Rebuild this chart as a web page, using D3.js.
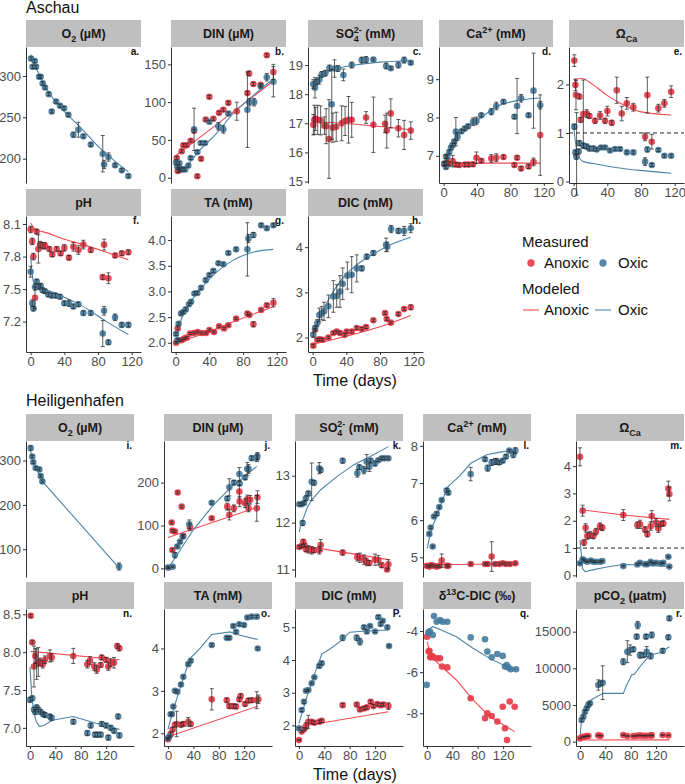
<!DOCTYPE html>
<html><head><meta charset="utf-8">
<script src="https://cdn.jsdelivr.net/npm/d3@7"></script>
<style>body{margin:0;background:#fff}</style></head>
<body>
<svg id="chart" width="685" height="784"></svg>
<script>
// ---------------- DATA ----------------
const xTicks = [0, 40, 80, 120];
const sites = ["Aschau", "Heiligenhafen"];
const legendGroups = ["Measured", "Modeled"];
const legendSeries = ["Anoxic", "Oxic"];

// Measured: [day, value, sd]; Modeled: [day, value]
const a_oxic = [[0.5,321,2],[4.9,318,2],[2.3,311,2],[6.4,311,2],[10,299,2],[12,299,2],[14.3,291,2],[17.1,286,2],[21.5,278,2],[25,257,2],[30.2,269,2],[34.9,264,2],[39.7,261,2],[44.8,253,2],[50.7,229,3],[56.7,235,9],[62.6,227,2],[71.4,217,2],[85.6,206,22],[87.2,193,5],[92.3,202,5],[100.2,192,2],[108.2,186,2],[116,179,2]];
const a_modOxic = [[0,326],[10,302],[20,283],[30,268],[45,252],[60,237],[80,215],[100,197],[116,184]];
const a_ticks = [200,250,300];
const b_anoxic = [[1.3,26,2],[2.5,9,2],[4.4,10,2],[7.2,35,2],[9.2,43,2],[13.2,43,2],[17.9,49,2],[21.9,62,2],[25.8,2,2],[30.2,25,2],[35.7,77,2],[40,107,2],[44.8,78,2],[51.5,86,2],[56.6,90,2],[62.6,99,2],[72.6,88,12],[85.2,112,2],[87.2,138,3],[92.3,124,2],[101,123,2],[108.2,162,2],[116,140,10]];
const b_oxic = [[0.5,20,2],[2,15,2],[4.4,19,2],[5.2,12,2],[8.4,11,2],[11.2,11,2],[15.1,16,2],[17.9,26,2],[21.9,64,28],[25.8,34,2],[29.8,46,2],[34.9,46,2],[40,74,2],[50.7,68,5],[56.6,64,5],[62.6,85,2],[85.2,90,50],[87.5,100,5],[93.1,100,5],[101,121,2],[108.2,133,5],[116,127,20]];
const b_modAnoxic = [[0,29],[40,63],[80,97],[116,128]];
const b_modOxic = [[0,20],[5.2,13],[13.2,17],[29,37],[48.8,59],[68.5,85],[92.3,109],[108.2,124],[116,130]];
const b_ticks = [0,50,100,150];
const c_anoxic = [[0.8,16.95,0.35],[2,17.12,0.5],[3.5,17.15,0.4],[6,17.12,0.5],[9.5,17.1,0.5],[14,16.92,0.3],[16,16.9,0.6],[19.4,16.46,1.35],[24,16.85,0.5],[28,16.88,0.5],[34.5,17.0,0.6],[38.5,17.08,0.5],[42.5,17.12,0.8],[46.4,17.12,0.6],[63.4,17.2,0.2],[72.1,16.95,0.95],[86,16.98,0.3],[88,16.75,0.6],[92.8,17.34,0.5],[101.8,16.83,0.3],[108.6,16.6,0.5],[116.5,16.75,0.3]];
const c_oxic = [[0.8,18.35,0.15],[2.8,18.22,0.35],[5,18.42,0.1],[8,18.5,0.15],[11,18.68,0.1],[15,18.72,0.1],[20,18.9,0.1],[22.7,17.65,1.2],[26,18.88,0.3],[30,18.88,0.1],[36.5,18.66,0.2],[46.4,19.0,0.1],[58.3,19.17,0.1],[63.4,19.19,0.1],[72.1,19.19,0.05],[87.2,18.97,0.1],[92.8,18.89,0.05],[101.8,19.0,0.1],[108.6,19.17,0.1],[116.5,19.08,0.05]];
const c_modAnoxic = [[0,17.05],[20,17.03],[116.5,16.78]];
const c_modOxic = [[0,18.15],[5,18.45],[15,18.7],[30,18.88],[50,19.0],[80,19.1],[116.5,19.15]];
const c_ticks = [15,16,17,18,19];
const d_anoxic = [[0.8,6.78,0.05],[2.9,6.98,0.05],[4,6.82,0.05],[6.8,6.79,0.05],[10.8,6.86,0.15],[14.7,6.77,0.05],[18.7,6.76,0.05],[25.4,6.77,0.05],[30,6.77,0.05],[35.3,6.78,0.05],[39.3,6.95,0.15],[45.2,6.87,0.05],[57.1,6.93,0.1],[63.1,6.95,0.1],[71.7,6.97,0.05],[84.8,6.76,0.05],[88,6.95,0.05],[92.8,6.67,0.05],[101.8,6.72,0.05],[107.7,6.84,0.1],[115.7,7.54,1.05]];
const d_oxic = [[0.8,6.80,0.05],[2.9,6.71,0.05],[4.4,6.97,0.05],[6.8,7.10,0.05],[8.8,7.21,0.05],[10.8,7.28,0.05],[12.7,7.37,0.05],[14.7,7.63,0.37],[16.7,7.50,0.1],[21.5,7.64,0.05],[25.4,7.71,0.05],[29.3,7.77,0.05],[35.3,7.89,0.1],[39.3,7.91,0.1],[45.2,8.06,0.05],[57.1,8.15,0.08],[63.1,8.30,0.1],[71.7,8.41,0.05],[84.8,8.02,0.05],[88,8.30,0.72],[92.8,8.50,0.1],[101.8,8.06,0.05],[107.7,8.70,0.98],[115.7,8.32,0.1]];
const d_modAnoxic = [[0,6.81],[115.7,6.81]];
const d_modOxic = [[0,6.80],[7.6,7.19],[15.5,7.54],[27.4,7.76],[43.2,7.97],[63.1,8.28],[90.8,8.45],[115.7,8.51]];
const d_ticks = [7,8,9];
const e_anoxic = [[0.8,2.49,0.12],[2.1,1.99,0.12],[2.8,1.78,0.3],[3.5,0.57,0.85],[6.8,1.75,0.05],[8.4,1.27,0.05],[11.5,1.39,0.7],[15.5,1.40,0.08],[18.7,1.35,0.05],[25.4,1.25,0.05],[31.4,1.36,0.08],[37.3,1.25,0.05],[40,1.45,0.1],[45.2,1.21,0.05],[51.2,1.88,0.27],[57.1,1.40,0.15],[63.1,1.61,0.12],[70.9,1.53,0.08],[84.8,0.92,0.08],[87.5,1.78,0.37],[92.8,0.82,0.15],[100.6,1.51,0.08],[107.7,1.61,0.08],[115.7,1.85,0.12]];
const e_oxic = [[0.8,1.13,0.05],[2.1,0.60,0.05],[3.2,0.51,0.05],[6,0.62,0.05],[6.8,0.79,0.05],[11.5,0.74,0.05],[15.5,0.72,0.05],[18.7,0.68,0.05],[23.4,0.68,0.05],[27.4,0.66,0.03],[32.5,0.70,0.03],[37.3,0.70,0.03],[43.2,0.64,0.03],[49.2,0.67,0.03],[55.1,0.67,0.03],[63.1,0.60,0.03],[70.9,0.60,0.03],[84.8,0.41,0.08],[87.5,0.66,0.05],[92.8,0.34,0.03],[100.6,0.65,0.03],[107.7,0.53,0.03],[115.7,0.53,0.03]];
const e_modAnoxic = [[0,2.09],[9.6,2.12],[23.4,1.99],[39.2,1.78],[59,1.58],[78.8,1.44],[115.7,1.37]];
const e_modOxic = [[0,1.16],[4.4,0.58],[11.5,0.41],[23,0.37],[39,0.32],[59,0.27],[78.8,0.23],[115.7,0.17]];
const e_ticks = [0,1,2];
const f_anoxic = [[0,8.05,0.03],[1.9,7.94,0.03],[3.3,7.80,0.03],[5.2,7.42,0.1],[7.2,8.03,0.02],[9.2,7.87,0.13],[11.2,7.91,0.03],[14.3,7.90,0.03],[17.1,7.90,0.03],[22.2,7.87,0.02],[25.7,7.82,0.02],[30.9,7.87,0.02],[35.6,7.83,0.02],[40,7.88,0.03],[45.5,7.79,0.02],[50.7,7.89,0.04],[56.7,7.86,0.04],[62.6,7.91,0.04],[71.4,7.86,0.02],[85.6,7.61,0.02],[87.2,7.91,0.05],[92.3,7.60,0.05],[100.2,7.81,0.02],[108.2,7.83,0.02],[116,7.84,0.02]];
const f_oxic = [[0,7.66,0.05],[1.9,7.37,0.03],[3.3,7.32,0.02],[5.2,7.52,0.03],[7.2,7.57,0.02],[9.9,7.52,0.02],[11.9,7.53,0.02],[14.3,7.49,0.02],[17.1,7.48,0.02],[21,7.45,0.02],[25,7.44,0.02],[29.7,7.44,0.02],[34.9,7.43,0.02],[40,7.37,0.02],[45.5,7.37,0.03],[50.7,7.34,0.02],[56.7,7.36,0.02],[62.6,7.28,0.02],[71.4,7.28,0.02],[85.6,7.09,0.12],[87.2,7.30,0.04],[92.3,7.01,0.02],[100.2,7.24,0.03],[108.2,7.17,0.02],[116,7.17,0.02]];
const f_modAnoxic = [[0,8.11],[7.2,8.04],[14,8.03],[40,7.96],[62.6,7.91],[90,7.84],[116,7.77]];
const f_modOxic = [[0,7.80],[3.3,7.57],[7.2,7.54],[30,7.46],[60,7.35],[90,7.2],[116,7.08]];
const f_ticks = [7.2,7.5,7.8,8.1];
const g_anoxic = [[0.5,2.0,0.02],[2.5,2.28,0.03],[4.1,2.05,0.02],[7.2,2.05,0.02],[10,2.08,0.02],[13.2,2.10,0.02],[17.1,2.18,0.02],[21.9,2.19,0.02],[26.2,2.21,0.02],[31,2.19,0.02],[36.1,2.19,0.02],[40.1,2.25,0.02],[45.6,2.21,0.02],[51.6,2.32,0.02],[57.5,2.28,0.02],[62.6,2.34,0.02],[71.8,2.47,0.02],[85.2,2.57,0.03],[87.6,2.54,0.02],[92.3,2.36,0.05],[101.5,2.64,0.02],[108.2,2.73,0.03],[116.1,2.78,0.08]];
const g_oxic = [[0.5,2.17,0.03],[2,2.05,0.03],[3.5,2.37,0.03],[6.4,2.57,0.03],[9.2,2.60,0.03],[12,2.65,0.03],[15.9,2.75,0.03],[18.3,2.80,0.03],[22.3,2.96,0.03],[25.8,2.97,0.03],[30.2,3.07,0.03],[35.7,3.22,0.03],[40.1,3.32,0.03],[44.8,3.40,0.03],[50.8,3.55,0.03],[56.7,3.53,0.03],[62.6,3.75,0.03],[71.8,3.82,0.03],[85.2,3.82,0.52],[86.4,4.03,0.08],[92.3,4.10,0.05],[101.5,4.29,0.03],[108.2,4.23,0.03],[116.1,4.29,0.03]];
const g_modAnoxic = [[0.5,2.0],[29,2.15],[68.6,2.41],[116,2.70]];
const g_modOxic = [[0.5,2.0],[5.2,2.38],[13.2,2.67],[29,3.03],[48.8,3.38],[68.6,3.61],[88.4,3.75],[116,3.82]];
const g_ticks = [2.0,2.5,3.0,3.5,4.0];
const h_anoxic = [[0.8,1.82,0.03],[2.9,2.17,0.03],[5.6,1.95,0.03],[8.5,1.96,0.03],[12,1.95,0.03],[18.7,2.0,0.03],[24.6,2.10,0.03],[28.6,2.13,0.03],[32.5,2.10,0.03],[38,2.06,0.03],[40.4,2.13,0.03],[46.4,2.13,0.03],[52.4,2.21,0.03],[58.3,2.19,0.03],[63.4,2.23,0.03],[72.1,2.38,0.03],[86,2.54,0.03],[88,2.41,0.03],[92.8,2.33,0.03],[101.8,2.52,0.03],[108.6,2.63,0.03],[116.5,2.67,0.05]];
const h_oxic = [[0.8,2.06,0.05],[2.9,2.21,0.05],[5.6,2.32,0.08],[8,2.50,0.15],[10.8,2.54,0.15],[13.5,2.58,0.2],[18.7,2.69,0.25],[24.6,2.91,0.35],[28.6,2.92,0.25],[32.5,3.02,0.35],[35.7,3.19,0.35],[41.2,3.37,0.3],[46.4,3.39,0.4],[52.4,3.53,0.3],[58.3,3.53,0.05],[64.3,3.79,0.05],[72.1,3.87,0.05],[87.2,4.05,0.15],[88.5,4.01,0.1],[93.1,4.40,0.08],[101.8,4.36,0.05],[108.6,4.36,0.1],[116.5,4.42,0.1]];
const h_modAnoxic = [[0,1.85],[40,2.03],[80,2.24],[116.5,2.49]];
const h_modOxic = [[0.8,2.06],[12.7,2.61],[35,3.3],[52.4,3.61],[72.1,3.85],[91.9,4.05],[116.5,4.22]];
const h_ticks = [2,3,4];
const i_oxic = [[1.1,328,5],[3.6,309,3],[5.2,296,3],[9,283,3],[14.7,280,3],[16.9,265,3],[19.5,253,3],[140.4,61,8]];
const i_modOxic = [[0,327],[5,297],[10,283],[19.5,253],[141,57]];
const i_ticks = [100,200,300];
const j_anoxic = [[0.5,2,2],[5.8,107,3],[6.9,88,3],[11,86,3],[6.9,43,3],[15.3,177,3],[21.6,144,3],[24.2,76,3],[34.7,96,8],[68.9,117,3],[93.5,144,8],[96.7,125,12],[104,140,8],[112.5,179,15],[113,156,12],[121.5,152,10],[125,161,10],[127,140,8],[129.6,160,10],[140,140,30],[141,166,15]];
const j_oxic = [[0.5,2,2],[7.4,4,2],[11,31,6],[14.7,51,3],[19,62,3],[23.2,74,4],[33.6,103,10],[68.9,153,3],[93.5,163,5],[96.7,189,20],[104,200,5],[112.5,220,15],[113,198,5],[121.5,212,5],[125,232,15],[127,232,10],[132,257,5],[140,257,8],[141,262,8]];
const j_modAnoxic = [[0,72],[140,142]];
const j_modOxic = [[0,0],[10,22],[40,90],[70,145],[100,190],[140,238]];
const j_ticks = [0,100,200];
const k_anoxic = [[0.5,11.48,0.03],[4.2,11.50,0.03],[6.8,11.59,0.05],[8.5,11.52,0.03],[11,11.43,0.05],[14.7,11.43,0.08],[20,11.41,0.08],[23.7,11.41,0.05],[32,11.41,0.08],[34.2,11.52,0.12],[68.9,11.36,0.05],[92,11.26,0.08],[96,11.25,0.1],[102.5,11.21,0.1],[106.8,11.16,0.08],[110.9,11.14,0.05],[119.9,11.21,0.12],[125.1,11.2,0.1],[130.4,11.09,0.05],[138.8,11.0,0.03],[140.9,11.11,0.1]];
const k_oxic = [[0.5,12.39,0.03],[4.2,12.39,0.03],[5.8,11.99,0.05],[7.9,12.42,0.03],[11,12.52,0.05],[14.7,12.62,0.05],[20,12.87,0.4],[23.7,12.85,0.05],[32,13.16,0.12],[34.2,13.12,0.05],[68.9,13.32,0.05],[92,13.05,0.08],[95.1,13.18,0.05],[102.5,13.12,0.08],[106.8,13.30,0.15],[110.9,13.19,0.1],[113.1,13.32,0.05],[119.9,13.26,0.05],[125.1,13.33,0.03],[130.4,13.37,0.03],[135,13.37,0.03],[140.9,13.37,0.03]];
const k_modAnoxic = [[0.5,11.52],[141,11.21]];
const k_modOxic = [[0.5,11.8],[3,11.98],[6.8,12.09],[13,12.32],[20,12.48],[33.4,12.69],[59.7,12.98],[86,13.23],[112.4,13.41],[141,13.62]];
const k_ticks = [11,12,13];
const l_anoxic = [[-0.5,4.77,0.03],[3.7,4.75,0.03],[6.5,4.79,0.03],[11,4.77,0.03],[15.3,4.75,0.03],[19.5,4.77,0.03],[23.2,4.91,0.18],[31.1,4.77,0.03],[33.6,4.77,0.03],[68.9,4.82,0.03],[91.5,4.82,0.03],[95.7,4.82,0.03],[102,5.02,0.4],[107.3,4.82,0.03],[114,4.82,0.03],[119.4,4.84,0.03],[124.6,4.82,0.03],[130.9,4.82,0.03],[139.3,4.84,0.03]];
const l_oxic = [[3.7,5.63,0.03],[5.8,5.80,0.03],[9,5.29,0.03],[11,6.10,0.03],[15.3,6.17,0.05],[19.5,6.35,0.03],[23.2,6.54,0.03],[31.1,6.80,0.05],[33.6,6.74,0.05],[68.9,7.24,0.18],[91.5,7.64,0.05],[95.7,7.40,0.08],[102,7.55,0.08],[107.3,7.58,0.08],[110,7.58,0.08],[114,7.55,0.05],[119.4,7.60,0.05],[124.6,7.71,0.05],[129.8,7.87,0.03],[136.1,7.76,0.08],[139.3,7.87,0.08]];
const l_modAnoxic = [[0,4.80],[140,4.82]];
const l_modOxic = [[0.5,5.24],[4.2,5.56],[9,5.85],[15.3,6.10],[24,6.52],[32.2,6.89],[52,7.2],[68.9,7.53],[94.2,7.76],[115,7.83],[140.3,7.89]];
const l_ticks = [5,6,7,8];
const m_anoxic = [[0,4.34,0.33],[4.2,2.37,0.2],[6.3,1.20,0.1],[8.9,1.74,0.15],[11.5,1.44,0.12],[15.8,1.48,0.12],[21,1.44,0.1],[25.2,1.60,0.12],[31.5,1.80,0.12],[35.2,1.74,0.1],[68.3,2.21,0.2],[90.4,1.84,0.12],[94.6,1.87,0.15],[102.5,1.68,0.1],[106.2,1.51,0.1],[111.5,1.80,0.15],[113.1,2.17,0.2],[119.9,1.93,0.15],[123.5,1.72,0.15],[127.3,1.88,0.1],[131.4,1.90,0.1],[139.3,3.18,0.27],[140.9,2.98,0.25]];
const m_oxic = [[0,0.44,0.03],[4.2,0.59,0.03],[7.4,0.54,0.03],[11.5,0.50,0.03],[16.8,0.54,0.03],[21,0.50,0.03],[25.2,0.50,0.03],[31.5,0.50,0.03],[35.2,0.52,0.03],[68.3,0.34,0.03],[90.4,0.40,0.03],[94.6,0.46,0.03],[102.5,0.41,0.03],[106.2,0.41,0.03],[111.5,0.50,0.03],[115,0.44,0.03],[119.9,0.46,0.03],[127.3,0.44,0.03],[131.4,0.46,0.03],[139.3,0.68,0.03],[140.9,0.32,0.03]];
const m_modAnoxic = [[2,2.40],[68.3,2.21],[140.9,2.05]];
const m_modOxic = [[0,1.3],[2,0.8],[4,0.25],[8,0.14],[20,0.2],[40,0.3],[68,0.4],[100,0.38],[140,0.32]];
const m_ticks = [0,1,2,3,4];
const n_anoxic = [[1.1,8.48,0.02],[3.6,8.13,0.02],[6.3,7.81,0.27],[8.4,7.95,0.1],[10.5,7.84,0.2],[13.1,7.87,0.19],[15.8,7.87,0.05],[20,7.84,0.05],[23.7,7.90,0.05],[31.5,7.95,0.08],[34.2,7.93,0.05],[68.3,7.95,0.1],[90.4,7.84,0.05],[94.6,7.89,0.05],[101.4,7.81,0.05],[105.2,7.77,0.05],[111.5,7.83,0.03],[113.1,7.93,0.03],[119.9,7.90,0.03],[123.5,7.81,0.05],[127.3,7.86,0.05],[132.5,7.86,0.07],[137.7,8.08,0.03],[140.9,8.05,0.03]];
const n_oxic = [[0,7.37,0.03],[3.6,7.39,0.03],[6.3,7.24,0.03],[8.4,7.21,0.03],[10.5,7.27,0.03],[13.1,7.24,0.03],[16.8,7.21,0.03],[21,7.18,0.03],[23.7,7.17,0.03],[31.5,7.15,0.03],[34.2,7.13,0.03],[68.3,7.08,0.03],[90.4,6.93,0.03],[95.7,7.03,0.03],[102.5,6.91,0.03],[106.5,6.91,0.03],[111.5,6.91,0.03],[113.1,7.05,0.03],[119.9,7.03,0.03],[123.5,6.87,0.03],[127.3,7.0,0.03],[132.5,6.96,0.03],[139,7.15,0.03],[140.9,6.90,0.03]];
const n_modAnoxic = [[1,8.01],[141,7.90]];
const n_modOxic = [[0,7.8],[3,7.4],[6,7.2],[10,7.08],[15,7.02],[22,7.03],[35,7.1],[68,7.15],[100,7.07],[141,6.98]];
const n_ticks = [7.0,7.5,8.0,8.5];
const o_anoxic = [[0,1.86,0.02],[4.2,1.98,0.05],[7.4,2.09,0.05],[11,2.2,0.05],[13.6,2.22,0.3],[20.5,2.2,0.05],[24.2,2.22,0.05],[32,2.27,0.1],[35.8,2.22,0.05],[69,2.8,0.25],[92.6,2.78,0.05],[96.7,2.64,0.05],[103,2.64,0.05],[107.3,2.63,0.05],[112.5,2.8,0.05],[114.6,2.88,0.05],[121.5,2.69,0.05],[126.7,2.77,0.05],[132,2.78,0.05],[140,2.78,0.2],[142.5,2.8,0.1]];
const o_oxic = [[-0.5,1.88,0.02],[2.1,1.92,0.02],[4.2,2.45,0.03],[6,2.45,0.03],[8.4,2.63,0.03],[11,3.0,0.03],[14.7,2.98,0.03],[20.5,3.15,0.03],[24.2,3.33,0.03],[32,3.63,0.03],[35.8,3.71,0.03],[69,4.08,0.03],[92.6,4.25,0.03],[96.7,4.25,0.03],[103,4.53,0.03],[107.3,4.39,0.03],[112.5,4.57,0.03],[119.9,4.55,0.03],[125.1,4.73,0.03],[132,4.75,0.03],[140,4.75,0.03],[141.5,4.0,0.03]];
const o_modAnoxic = [[0,1.92],[141.5,2.64]];
const o_modOxic = [[0,2.09],[8.4,2.55],[18.9,3.06],[34.7,3.76],[50.5,4.0],[69,4.33],[97.8,4.39],[113.6,4.31],[141.5,4.21]];
const o_ticks = [2,3,4];
const p_anoxic = [[0,1.55,0.02],[4.2,1.81,0.03],[7.9,1.88,0.05],[11,1.98,0.1],[14.7,2.11,0.2],[20,2.11,0.05],[24.2,2.08,0.05],[32,2.11,0.05],[35.8,2.14,0.05],[68.9,2.62,0.05],[91,2.64,0.05],[96.2,2.49,0.05],[102.5,2.52,0.05],[107,2.55,0.05],[113,2.72,0.05],[117.2,2.59,0.05],[123.5,2.65,0.05],[128.9,2.62,0.05],[133.1,2.64,0.05],[141,2.59,0.1]];
const p_oxic = [[0,1.91,0.03],[4.2,2.47,0.05],[7.9,2.72,0.05],[11,3.06,0.03],[14.7,3.08,0.03],[20,3.29,0.03],[24.2,3.47,0.03],[32,3.82,0.05],[35.8,3.90,0.05],[68.9,4.68,0.08],[91,4.68,0.08],[96.2,4.56,0.1],[102.5,5.0,0.05],[107,4.87,0.05],[112,5.04,0.03],[119.9,4.87,0.03],[125.1,5.31,0.05],[128.9,5.10,0.05],[132,5.20,0.03],[139.3,5.0,0.05],[142,4.43,0.03]];
const p_modAnoxic = [[0,1.96],[141,2.42]];
const p_modOxic = [[0,2.06],[12,2.85],[25,3.6],[36,4.18],[50,4.35],[67,4.6],[80,4.85],[100,4.88],[141,4.92]];
const p_ticks = [2,3,4,5];
const q_anoxic = [[0,-4.28],[2.6,-5.0],[3.7,-4.96],[5,-5.28],[7.5,-5.21],[10,-5.28],[15.8,-5.33],[20.5,-5.33],[23.7,-5.73],[32,-5.77],[68.9,-7.27],[91.5,-8.24],[95.2,-8.0],[102,-8.13],[110.9,-8.40],[119.4,-7.68],[123,-8.73],[126.2,-9.30],[130.4,-7.43],[138.3,-7.68]];
const q_oxic = [[-0.5,-6.62],[2.1,-4.08],[4.7,-4.03],[9,-4.19],[11,-3.27],[15.3,-3.55],[20.5,-3.47],[24.8,-3.55],[32,-3.55],[68.9,-4.31],[91.5,-4.40],[95.2,-5.0],[102,-5.28],[110.9,-5.12],[119.4,-5.21],[123,-5.73],[125.7,-5.65],[128.2,-5.77],[132,-5.86],[140.4,-5.86]];
const q_modAnoxic = [[0,-4.52],[6.8,-5.25],[20,-5.65],[46.3,-6.38],[72.6,-7.35],[98.9,-8.16],[138.3,-8.89]];
const q_modOxic = [[0,-3.95],[9.5,-3.79],[20,-3.92],[46.3,-4.28],[72.6,-4.84],[98.9,-5.33],[125.1,-5.73],[140,-5.89]];
const q_ticks = [-8,-6,-4];
const r_anoxic = [[0,450,50],[4.2,680,50],[7.4,680,50],[10.5,770,50],[13.2,770,50],[28.9,860,50],[32.6,800,50],[68.3,910,50],[74.6,770,50],[84.1,770,50],[89.4,820,50],[94.6,860,50],[99.8,820,50],[105.2,820,50],[111.5,860,50],[113.1,860,50],[130.4,910,50],[139.3,860,50]];
const r_oxic = [[2.6,2950,200],[5.3,3410,200],[7.9,4090,200],[10.5,4545,200],[13.2,5000,300],[15.8,5230,200],[28.9,7730,700],[32.6,7950,300],[35.8,8045,2300],[68.3,10900,400],[74.6,12270,1500],[78.9,12500,700],[84.1,12590,300],[89.4,14320,300],[91,15900,500],[94.6,11800,400],[99.8,11800,300],[104.1,14320,300],[105.2,12270,700],[111.5,11680,400],[113.1,14550,400],[130.4,12400,300],[139.3,14230,300],[140.9,16820,300]];
const r_modAnoxic = [[0,230],[141,250]];
const r_modOxic = [[0,680],[2.6,3180],[7.9,4320],[13.2,5450],[26.3,6130],[36.8,6590],[68.3,6590],[73.6,7730],[81.5,9090],[86,9230],[94.6,10230],[110.4,11820],[126.2,12140],[140.9,12950]];
const r_ticks = [0,5000,10000,15000];

// ---------------- STYLE / LAYOUT ----------------
const RED = "#E63946", BLUE = "#457B9D";
const RED_L = "#EE4B55", BLUE_L = "#4C84A8";
const FONT = "'Liberation Sans', Arial, sans-serif";
const A_X = [-5.5, 131], H_X = [-6.3, 164];

const panels = [
  {tag:"a.", x:26, w:115, top:47, h:136, xd:A_X, yd:[170.6,335], ticks:a_ticks, title:[{t:"O"},{t:"2",sub:1},{t:" (µM)"}], red:null, blue:a_oxic, mRed:null, mBlue:a_modOxic},
  {tag:"b.", x:171, w:115, top:47, h:136, xd:A_X, yd:[-7,173], ticks:b_ticks, title:[{t:"DIN (µM)"}], red:b_anoxic, blue:b_oxic, mRed:b_modAnoxic, mBlue:b_modOxic},
  {tag:"c.", x:308, w:115, top:47, h:136, xd:A_X, yd:[14.95,19.62], ticks:c_ticks, title:[{t:"SO"},{t:"2-",sup:1},{t:"4",sub:1,stack:1},{t:" (mM)"}], red:c_anoxic, blue:c_oxic, mRed:c_modAnoxic, mBlue:c_modOxic},
  {tag:"d.", x:439, w:114, top:47, h:136, xd:A_X, yd:[6.29,9.84], ticks:d_ticks, xaxis:1, title:[{t:"Ca"},{t:"2+",sup:1},{t:" (mM)"}], red:d_anoxic, blue:d_oxic, mRed:d_modAnoxic, mBlue:d_modOxic},
  {tag:"e.", x:569, w:115, top:47, h:136, xd:A_X, yd:[-0.03,2.77], ticks:e_ticks, xaxis:1, dashed:1, title:[{t:"Ω"},{t:"Ca",sub:1}], red:e_anoxic, blue:e_oxic, mRed:e_modAnoxic, mBlue:e_modOxic},
  {tag:"f.", x:26, w:115, top:216, h:136, xd:A_X, yd:[6.92,8.174], ticks:f_ticks, fmt:".1f", xaxis:1, title:[{t:"pH"}], red:f_anoxic, blue:f_oxic, mRed:f_modAnoxic, mBlue:f_modOxic},
  {tag:"g.", x:171, w:115, top:216, h:136, xd:A_X, yd:[1.82,4.47], ticks:g_ticks, fmt:".1f", xaxis:1, title:[{t:"TA (mM)"}], red:g_anoxic, blue:g_oxic, mRed:g_modAnoxic, mBlue:g_modOxic},
  {tag:"h.", x:308, w:115, top:216, h:136, xd:A_X, yd:[1.68,4.69], ticks:h_ticks, xaxis:1, title:[{t:"DIC (mM)"}], red:h_anoxic, blue:h_oxic, mRed:h_modAnoxic, mBlue:h_modOxic},
  {tag:"i.", x:26, w:108, top:441, h:136, xd:H_X, yd:[37.5,344], ticks:i_ticks, title:[{t:"O"},{t:"2",sub:1},{t:" (µM)"}], red:null, blue:i_oxic, mRed:null, mBlue:i_modOxic},
  {tag:"j.", x:164, w:108, top:441, h:136, xd:H_X, yd:[-20,297], ticks:j_ticks, title:[{t:"DIN (µM)"}], red:j_anoxic, blue:j_oxic, mRed:j_modAnoxic, mBlue:j_modOxic},
  {tag:"k.", x:295, w:108, top:441, h:136, xd:H_X, yd:[10.84,13.74], ticks:k_ticks, title:[{t:"SO"},{t:"2-",sup:1},{t:"4",sub:1,stack:1},{t:" (mM)"}], red:k_anoxic, blue:k_oxic, mRed:k_modAnoxic, mBlue:k_modOxic},
  {tag:"l.", x:423, w:108, top:441, h:136, xd:H_X, yd:[4.47,8.13], ticks:l_ticks, title:[{t:"Ca"},{t:"2+",sup:1},{t:" (mM)"}], red:l_anoxic, blue:l_oxic, mRed:l_modAnoxic, mBlue:l_modOxic},
  {tag:"m.", x:576, w:108, top:441, h:136, xd:H_X, yd:[-0.06,4.92], ticks:m_ticks, dashed:1, title:[{t:"Ω"},{t:"Ca",sub:1}], red:m_anoxic, blue:m_oxic, mRed:m_modAnoxic, mBlue:m_modOxic},
  {tag:"n.", x:26, w:108, top:609, h:137, xd:H_X, yd:[6.76,8.57], ticks:n_ticks, fmt:".1f", xaxis:1, title:[{t:"pH"}], red:n_anoxic, blue:n_oxic, mRed:n_modAnoxic, mBlue:n_modOxic},
  {tag:"o.", x:164, w:108, top:609, h:137, xd:H_X, yd:[1.70,4.93], ticks:o_ticks, xaxis:1, title:[{t:"TA (mM)"}], red:o_anoxic, blue:o_oxic, mRed:o_modAnoxic, mBlue:o_modOxic},
  {tag:"P.", x:295, w:108, top:609, h:137, xd:H_X, yd:[1.37,5.56], ticks:p_ticks, xaxis:1, title:[{t:"DIC (mM)"}], red:p_anoxic, blue:p_oxic, mRed:p_modAnoxic, mBlue:p_modOxic},
  {tag:"q.", x:423, w:108, top:609, h:137, xd:H_X, yd:[-9.59,-2.93], ticks:q_ticks, xaxis:1, title:[{t:"δ"},{t:"13",sup:1},{t:"C-DIC (‰)"}], red:q_anoxic, blue:q_oxic, mRed:q_modAnoxic, mBlue:q_modOxic},
  {tag:"r.", x:576, w:108, top:609, h:137, xd:H_X, yd:[-586,18093], ticks:r_ticks, xaxis:1, title:[{t:"pCO"},{t:"2",sub:1},{t:" (µatm)"}], red:r_anoxic, blue:r_oxic, mRed:r_modAnoxic, mBlue:r_modOxic}
];

const svg = d3.select("#chart").style("font-family", FONT);
svg.append("rect").attr("width",685).attr("height",784).attr("fill","#fff");

svg.append("text").attr("x",26).attr("y",13).attr("font-size",16).attr("fill","#111").text(sites[0]);
svg.append("text").attr("x",26).attr("y",406).attr("font-size",16).attr("fill","#111").text(sites[1]);

function stripTitle(g, p) {
  const cx = p.x + p.w/2, cy = p.top - 27 + 18;
  const txt = g.append("text").attr("x",cx).attr("y",cy).attr("text-anchor","middle")
    .attr("font-size",12.5).attr("font-weight","bold").attr("fill","#1a1a1a");
  let shift = 0, lastSupW = 0, pendingDx = 0;
  p.title.forEach(seg => {
    const ts = txt.append("tspan").text(seg.t);
    let target = 0;
    if (seg.sub) { ts.attr("font-size",9); target = 3.5; }
    else if (seg.sup) { ts.attr("font-size",9); target = -5; }
    ts.attr("dy", target - shift); shift = target;
    if (seg.stack) {
      const wSub = ts.node().getComputedTextLength();
      ts.attr("dx", -lastSupW);
      pendingDx = Math.max(0, lastSupW - wSub);
    } else if (pendingDx) { ts.attr("dx", pendingDx); pendingDx = 0; }
    if (seg.sup) lastSupW = ts.node().getComputedTextLength();
  });
}

function styleAxis(ax) {
  ax.select(".domain").attr("stroke","#333").attr("stroke-width",1);
  ax.selectAll(".tick line").attr("stroke","#333");
  ax.selectAll(".tick text").attr("fill","#4D4D4D").attr("font-size",13).attr("font-family",FONT);
}

panels.forEach(p => {
  const g = svg.append("g");
  const xs = d3.scaleLinear().domain(p.xd).range([p.x, p.x+p.w]);
  const ys = d3.scaleLinear().domain(p.yd).range([p.top+p.h, p.top]);
  g.append("rect").attr("x",p.x).attr("y",p.top-27).attr("width",p.w).attr("height",27).attr("fill","#BFBFBF");
  stripTitle(g, p);
  const fmt = p.fmt ? d3.format(p.fmt) : (v => String(v));
  const ya = g.append("g").attr("transform",`translate(${p.x},0)`)
    .call(d3.axisLeft(ys).tickValues(p.ticks).tickFormat(fmt).tickSize(3).tickSizeOuter(0).tickPadding(2));
  styleAxis(ya);
  if (p.xaxis) {
    const xa = g.append("g").attr("transform",`translate(0,${p.top+p.h})`)
      .call(d3.axisBottom(xs).tickValues(xTicks).tickFormat(d3.format("d")).tickSize(3).tickSizeOuter(0).tickPadding(2));
    styleAxis(xa);
  }
  if (p.dashed) {
    g.append("line").attr("x1",p.x).attr("x2",p.x+p.w).attr("y1",ys(1)).attr("y2",ys(1))
      .attr("stroke","#222").attr("stroke-width",1).attr("stroke-dasharray","4,3");
  }
  const curve = p.xd === H_X ? d3.curveLinear : d3.curveMonotoneX;
  const line = d3.line().x(d=>xs(d[0])).y(d=>ys(d[1])).curve(curve);
  if (p.mRed) g.append("path").attr("d",line(p.mRed)).attr("fill","none").attr("stroke",RED_L).attr("stroke-width",1.1);
  if (p.mBlue) g.append("path").attr("d",line(p.mBlue)).attr("fill","none").attr("stroke",BLUE_L).attr("stroke-width",1.1);
  [[p.red,RED],[p.blue,BLUE]].forEach(([data,col]) => {
    if (!data) return;
    g.append("g").selectAll("circle").data(data).join("circle")
      .attr("cx",d=>xs(d[0])).attr("cy",d=>ys(d[1])).attr("r",3.3)
      .attr("fill",col).attr("fill-opacity",0.9);
  });
  [p.red, p.blue].forEach(data => {
    if (!data) return;
    const eb = g.append("g").attr("stroke","#2b2b2b").attr("stroke-width",0.9).attr("stroke-opacity",0.85);
    data.filter(d => d.length > 2).forEach(d => {
      const x = xs(d[0]), y1 = ys(d[1]-d[2]), y2 = ys(d[1]+d[2]);
      eb.append("line").attr("x1",x).attr("x2",x).attr("y1",y1).attr("y2",y2);
      eb.append("line").attr("x1",x-2).attr("x2",x+2).attr("y1",y1).attr("y2",y1);
      eb.append("line").attr("x1",x-2).attr("x2",x+2).attr("y1",y2).attr("y2",y2);
    });
  });
  g.append("text").attr("x",p.x+p.w-2).attr("y",p.top+8).attr("text-anchor","end")
    .attr("font-size",10).attr("font-weight","bold").attr("fill","#111").text(p.tag);
});

svg.append("text").attr("x",355).attr("y",386).attr("text-anchor","middle").attr("font-size",16).attr("fill","#111").text("Time (days)");
svg.append("text").attr("x",355).attr("y",780).attr("text-anchor","middle").attr("font-size",16).attr("fill","#111").text("Time (days)");

const lg = svg.append("g");
lg.append("text").attr("x",522).attr("y",247).attr("font-size",15).attr("fill","#111").text(legendGroups[0]);
lg.append("text").attr("x",522).attr("y",294).attr("font-size",15).attr("fill","#111").text(legendGroups[1]);
const legX = [[531, 544], [603, 618]];
[RED, BLUE].forEach((c,i) => {
  lg.append("circle").attr("cx",legX[i][0]).attr("cy",263).attr("r",3.7).attr("fill",c).attr("fill-opacity",0.9);
  lg.append("text").attr("x",legX[i][1]).attr("y",268).attr("font-size",15).attr("fill","#111").text(legendSeries[i]);
});
[RED_L, BLUE_L].forEach((c,i) => {
  lg.append("line").attr("x1",legX[i][0]-8).attr("x2",legX[i][0]+8).attr("y1",310).attr("y2",310).attr("stroke",c).attr("stroke-width",1.1);
  lg.append("text").attr("x",legX[i][1]).attr("y",315).attr("font-size",15).attr("fill","#111").text(legendSeries[i]);
});
</script>
</body></html>
